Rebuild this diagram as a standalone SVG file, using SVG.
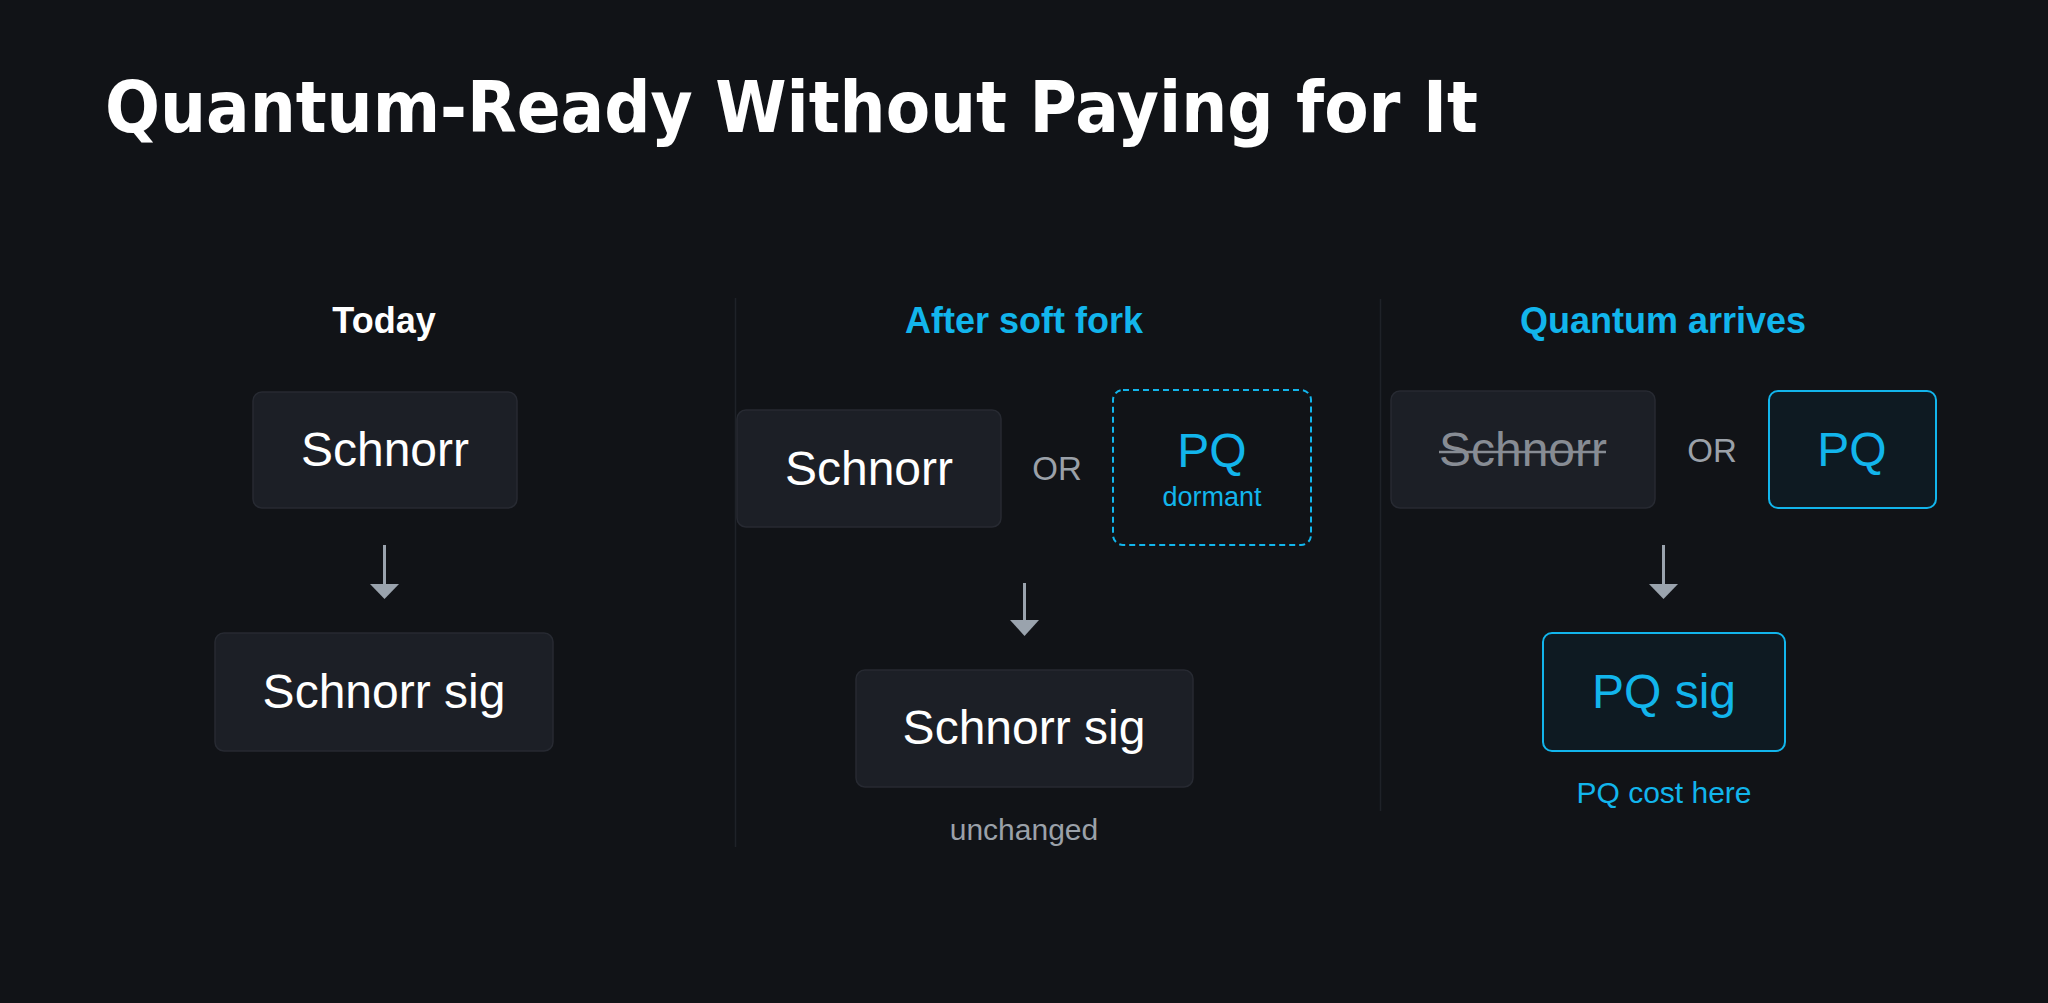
<svg xmlns="http://www.w3.org/2000/svg" width="2048" height="1003" viewBox="0 0 2048 1003">
<defs>
<style>
.bg{fill:#111317}
.box{fill:#1c1f26;stroke:#272a32;stroke-width:1.5}
.pq{fill:#0e1a22;stroke:#12b5ec;stroke-width:2}
.dash{fill:#111317;stroke:#12b5ec;stroke-width:2;stroke-dasharray:6 4}
.div{stroke:#1f2228;stroke-width:1.5}
.t{font-family:"Liberation Sans",Arial,Helvetica,sans-serif;text-anchor:middle}
.big{font-size:48px;fill:#ffffff}
.head{font-size:36px;font-weight:bold}
.or{font-size:33px;fill:#9ba1a9}
.small{font-size:30px}
.cy{fill:#12b5ec}
.gr{fill:#9ba1a9}
.arr{stroke:#9aa3ad;stroke-width:3}
.ah{fill:#9aa3ad}
</style>
</defs>
<rect class="bg" x="0" y="0" width="2048" height="1003"/>
<text x="105" y="132" font-family="DejaVu Sans,Verdana,sans-serif" font-weight="bold" font-size="72" fill="#ffffff" textLength="1373" lengthAdjust="spacingAndGlyphs">Quantum-Ready Without Paying for It</text>

<g id="dividers">
<line class="div" x1="735.5" y1="298" x2="735.5" y2="847"/>
<line class="div" x1="1380.5" y1="299" x2="1380.5" y2="811"/>
</g>

<g id="headers">
<text class="t head" x="384" y="333" fill="#ffffff">Today</text>
<text class="t head cy" x="1024" y="333">After soft fork</text>
<text class="t head cy" x="1663" y="333">Quantum arrives</text>
</g>

<g id="today-schnorr">
<rect class="box" x="253" y="392" width="264" height="116" rx="9"/>
<text class="t big" x="385" y="466">Schnorr</text>
</g>
<g id="today-sig">
<rect class="box" x="215" y="633" width="338" height="118" rx="9"/>
<text class="t big" x="384" y="708">Schnorr sig</text>
</g>

<g id="fork-schnorr">
<rect class="box" x="737" y="410" width="264" height="117" rx="9"/>
<text class="t big" x="869" y="485">Schnorr</text>
</g>
<g id="fork-or">
<text class="t or" x="1057" y="480">OR</text>
</g>
<g id="fork-pq">
<rect class="dash" x="1113" y="390" width="198" height="155" rx="10"/>
<text class="t big cy" x="1212" y="467">PQ</text>
<text class="t cy" x="1212" y="506" font-size="27">dormant</text>
</g>
<g id="fork-sig">
<rect class="box" x="856" y="670" width="337" height="117" rx="9"/>
<text class="t big" x="1024" y="744">Schnorr sig</text>
<text class="t small gr" x="1024" y="840">unchanged</text>
</g>

<g id="q-schnorr">
<rect class="box" x="1391" y="391" width="264" height="117" rx="9"/>
<text class="t" x="1523" y="466" font-size="48" fill="#878c94">Schnorr</text>
<line x1="1439" y1="452" x2="1606" y2="452" stroke="#878c94" stroke-width="2.5"/>
</g>
<g id="q-or">
<text class="t or" x="1712" y="462">OR</text>
</g>
<g id="q-pq">
<rect class="pq" x="1769" y="391" width="167" height="117" rx="9"/>
<text class="t big cy" x="1852" y="466">PQ</text>
</g>
<g id="q-sig">
<rect class="pq" x="1543" y="633" width="242" height="118" rx="9"/>
<text class="t big cy" x="1664" y="708">PQ sig</text>
<text class="t small cy" x="1664" y="803">PQ cost here</text>
</g>

<g id="connectors">
<line class="arr" x1="384.5" y1="545" x2="384.5" y2="586"/>
<polygon class="ah" points="370,584 399,584 384.5,599"/>
<line class="arr" x1="1024.5" y1="583" x2="1024.5" y2="622"/>
<polygon class="ah" points="1010,620 1039,620 1024.5,636"/>
<line class="arr" x1="1663.5" y1="545" x2="1663.5" y2="586"/>
<polygon class="ah" points="1649,584 1678,584 1663.5,599"/>
</g>
</svg>
